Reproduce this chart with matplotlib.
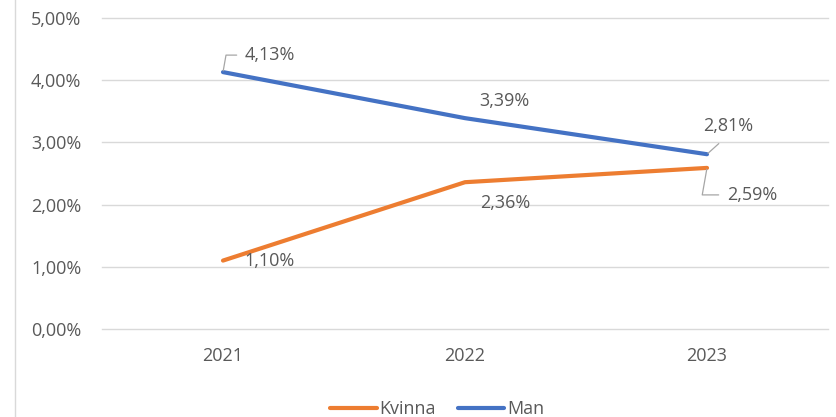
import matplotlib.pyplot as plt
from matplotlib.lines import Line2D
from matplotlib.ticker import FuncFormatter

years = ["2021", "2022", "2023"]
kvinna = [1.10, 2.36, 2.59]
man = [4.13, 3.39, 2.81]

# label offsets in pixels (dx, dy) relative to each point, Excel-like placement
kvinna_offsets = [(21, 0), (15, -21), (20, -27)]
man_offsets = [(22, 17), (14, 17), (-4, 28)]
kvinna_leader = [False, False, True]
man_leader = [True, False, True]

orange = "#ED7D31"
blue = "#4472C4"
txt = "#595959"
grid = "#D9D9D9"
fs = 13

plt.rcParams['font.family'] = ['Open Sans', 'DejaVu Sans']

fig = plt.figure(figsize=(8.36, 4.17), dpi=100)
ax = fig.add_axes([102 / 836, 88 / 417, 726 / 836, 311 / 417])

x = range(len(years))
ax.plot(x, kvinna, color=orange, lw=3, solid_capstyle='round', label="Kvinna")
ax.plot(x, man, color=blue, lw=3, solid_capstyle='round', label="Man")

ax.set_xlim(-0.5, len(years) - 0.5)
ax.set_ylim(0, 5)
ax.set_yticks([0, 1, 2, 3, 4, 5])
ax.yaxis.set_major_formatter(FuncFormatter(lambda v, p: f"{v:.2f}%".replace(".", ",")))
ax.set_xticks(list(x))
ax.set_xticklabels(years)
ax.tick_params(length=0, colors=txt, labelsize=fs)
ax.tick_params(axis='y', pad=15)
ax.tick_params(axis='x', pad=13)
ax.grid(axis='y', color=grid, lw=1)
for gl in ax.get_ygridlines():
    gl.set_clip_on(False)
ax.set_axisbelow(True)
for s in ax.spines.values():
    s.set_visible(False)


def label(vals, offs, leaders, side):
    for i, (v, (dx, dy), ld) in enumerate(zip(vals, offs, leaders)):
        s = f"{v:.2f}%".replace(".", ",")
        kw = {}
        if ld:
            if side[i] == 'l':
                kw['arrowprops'] = dict(arrowstyle='-', color="#A6A6A6", lw=0.9,
                                        shrinkA=4, shrinkB=1, relpos=(0, 0.5),
                                        connectionstyle="angle,angleA=0,angleB=80,rad=0")
            else:
                kw['arrowprops'] = dict(arrowstyle='-', color="#A6A6A6", lw=0.9,
                                        shrinkA=6, shrinkB=1, relpos=(0.5, 0))
        ax.annotate(s, xy=(i, v), xytext=(dx, dy), textcoords='offset pixels',
                    ha='left', va='center', color=txt, fontsize=fs, **kw)


label(kvinna, kvinna_offsets, kvinna_leader, ['l', 'l', 'l'])
label(man, man_offsets, man_leader, ['l', 'l', 'b'])

fig.add_artist(Line2D([15 / 836, 15 / 836], [0, 1], color=grid, lw=1))

fig.legend(loc='center', bbox_to_anchor=(437 / 836, 8 / 417), ncol=2, frameon=False,
           fontsize=fs, labelcolor=txt, handlelength=2.6, handletextpad=0.15,
           columnspacing=1.2)

fig.savefig("out.png", dpi=100)
